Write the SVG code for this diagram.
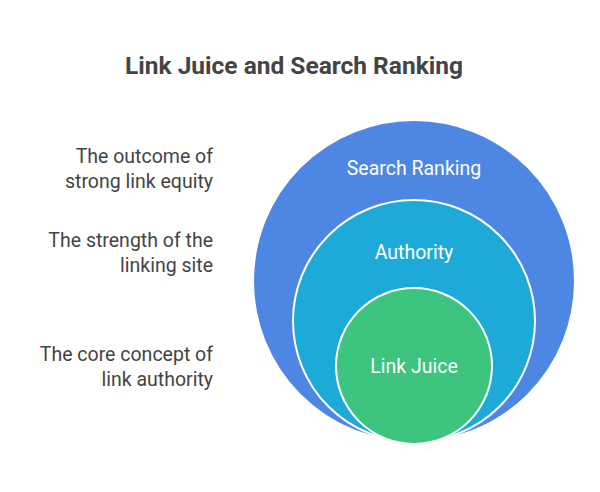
<svg xmlns="http://www.w3.org/2000/svg" width="600" height="492" viewBox="0 0 600 492">
<style>
.t{font-family:Roboto,"Liberation Sans",sans-serif}
.lbl{font-size:19.5px;fill:#fff;text-anchor:middle}
.side{font-size:19.5px;fill:#444;text-anchor:end}
circle{stroke:#fff;stroke-width:2}
</style>
<rect width="600" height="492" fill="#fff"/>
<text class="t" x="294" y="74" font-size="24.5" font-weight="bold" fill="#444" text-anchor="middle">Link Juice and Search Ranking</text>
<g id="search-ranking"><circle cx="414" cy="281" r="161" fill="#4E86E4"/><text class="t lbl" x="414" y="175">Search Ranking</text></g>
<g id="authority"><circle cx="414" cy="321" r="121" fill="#1EAAD9"/><text class="t lbl" x="414" y="259">Authority</text></g>
<g id="link-juice"><circle cx="414" cy="366" r="78" fill="#3DC47E"/><text class="t lbl" x="414" y="373">Link Juice</text></g>
<g id="labels">
<text class="t side" x="213" y="163">The outcome of</text><text class="t side" x="213" y="188">strong link equity</text>
<text class="t side" x="213" y="247">The strength of the</text><text class="t side" x="213" y="272">linking site</text>
<text class="t side" x="213" y="361">The core concept of</text><text class="t side" x="213" y="386">link authority</text>
</g>
<g id="connectors"/>
</svg>
